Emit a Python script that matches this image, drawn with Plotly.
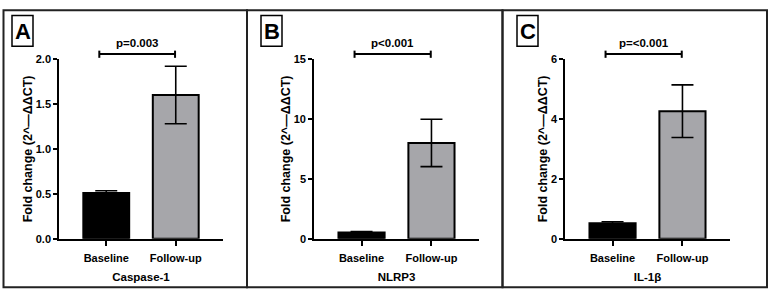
import plotly.graph_objects as go

W, H = 771, 299

# ---- data ----
groups = ["Baseline", "Follow-up"]
genes = ["Caspase-1", "NLRP3", "IL-1β"]
panel_letters = ["A", "B", "C"]
means_casp = [0.51, 1.60]
errs_casp = [0.025, 0.32]
means_nlrp = [0.52, 8.0]
errs_nlrp = [0.08, 1.98]
means_il = [0.52, 4.26]
errs_il = [0.05, 0.88]
pvals = ["p=0.003", "p<0.001", "p=<0.001"]
y_max = [2.0, 15, 6]
y_ticks = [[0, 0.5, 1.0, 1.5, 2.0], [0, 5, 10, 15], [0, 2, 4, 6]]
y_ticktext = [["0.0", "0.5", "1.0", "1.5", "2.0"], ["0", "5", "10", "15"], ["0", "2", "4", "6"]]
means = [means_casp, means_nlrp, means_il]
errs = [errs_casp, errs_nlrp, errs_il]

# ---- style ----
bar_colors = ["#000000", "#a6a6aa"]
FONT = "Liberation Sans, Arial, sans-serif"
ax_left = [59, 314, 565]
ax_right = [223, 479, 730]
plot_top, plot_bot = 55.3, 242.5
panel_x = [3.5, 247, 502.5, 767]
panel_top, panel_bot = 4.5, 293
letter_box_x = [12, 261, 517]

def px(x):
    return x / W

def py(y):
    return 1 - y / H

fig = go.Figure()
shapes = []
annotations = []

for i in range(3):
    xa = "x" if i == 0 else f"x{i+1}"
    ya = "y" if i == 0 else f"y{i+1}"
    fig.add_trace(go.Bar(
        x=groups, y=means[i], xaxis=xa, yaxis=ya,
        marker=dict(color=bar_colors, line=dict(color="#000000", width=2)),
        width=0.66,
        error_y=dict(type="data", array=errs[i], visible=True, color="#000000",
                     thickness=1.6, width=11),
        showlegend=False,
    ))
    axkey = "xaxis" if i == 0 else f"xaxis{i+1}"
    aykey = "yaxis" if i == 0 else f"yaxis{i+1}"
    fig.layout[axkey] = dict(
        domain=[px(ax_left[i]), px(ax_right[i])],
        anchor=ya, range=[-0.68, 1.68],
        showline=True, linecolor="#000000", linewidth=1.6,
        ticks="outside", ticklen=5, tickwidth=1.5, tickcolor="#000000",
        ticklabelstandoff=3,
        showgrid=False, zeroline=False,
        tickfont=dict(family=FONT, size=11, color="#000000", weight="bold"),
        title=dict(text="<b>" + genes[i] + "</b>", standoff=10,
                   font=dict(family=FONT, size=11.5, color="#000000")),
        fixedrange=True,
    )
    fig.layout[aykey] = dict(
        domain=[py(plot_bot), py(plot_top)],
        anchor=xa, range=[0, y_max[i]],
        tickvals=y_ticks[i], ticktext=y_ticktext[i],
        showline=True, linecolor="#000000", linewidth=1.6,
        ticks="outside", ticklen=4, tickwidth=1.5, tickcolor="#000000",
        showgrid=False, zeroline=False,
        tickfont=dict(family=FONT, size=11, color="#000000", weight="bold"),
        title=dict(text="<b>Fold change (2^—ΔΔCT)</b>", standoff=0,
                   font=dict(family=FONT, size=12.5, color="#000000")),
        fixedrange=True,
    )
    # significance bracket
    by = py(50)
    x0b, x1b = -0.1, 0.99
    shapes.append(dict(type="line", xref=xa, yref="paper", x0=x0b, x1=x1b, y0=by, y1=by,
                       line=dict(color="#000000", width=2)))
    for xb in (x0b, x1b):
        shapes.append(dict(type="line", xref=xa, yref="paper", x0=xb, x1=xb,
                           y0=py(46.5), y1=py(54), line=dict(color="#000000", width=2)))
    annotations.append(dict(text="<b>" + pvals[i] + "</b>", xref=xa, yref="paper",
                            x=(x0b + x1b) / 2, y=py(39), xanchor="center", yanchor="middle",
                            showarrow=False, font=dict(family=FONT, size=11.5, color="#000000")))
    # panel letter box
    lx = letter_box_x[i]
    shapes.append(dict(type="rect", xref="paper", yref="paper",
                       x0=px(lx), x1=px(lx + 21), y0=py(10), y1=py(42),
                       line=dict(color="#000000", width=1.5), fillcolor="#ffffff"))
    annotations.append(dict(text="<b>" + panel_letters[i] + "</b>", xref="paper", yref="paper",
                            x=px(lx + 10.5), y=py(26.5), xanchor="center", yanchor="middle",
                            showarrow=False, font=dict(family=FONT, size=22, color="#000000")))

# panel frames
for i in range(3):
    shapes.append(dict(type="rect", xref="paper", yref="paper",
                       x0=px(panel_x[i]), x1=px(panel_x[i + 1]),
                       y0=py(panel_bot), y1=py(panel_top),
                       line=dict(color="#222222", width=2), layer="below"))

fig.update_layout(
    width=W, height=H,
    margin=dict(l=0, r=0, t=0, b=0),
    paper_bgcolor="#ffffff", plot_bgcolor="#ffffff",
    shapes=shapes, annotations=annotations,
    bargap=0.34,
)

fig.write_html("out.html", config={"displayModeBar": False})
